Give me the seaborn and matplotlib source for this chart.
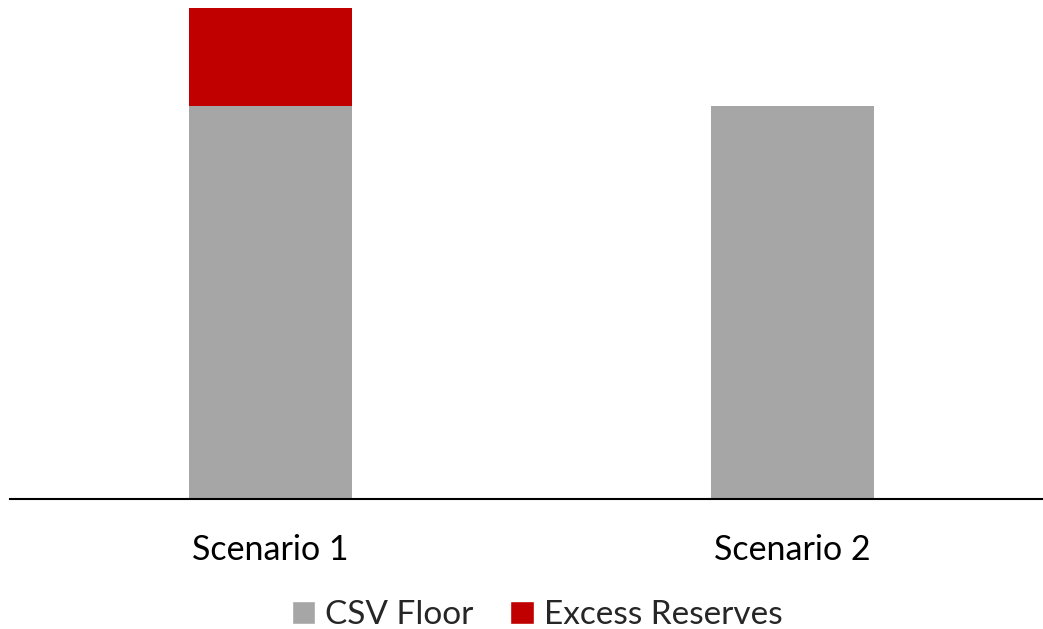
import pandas as pd
import numpy as np
import seaborn as sns
import matplotlib.pyplot as plt
from matplotlib.patches import Patch

sns.set_style('white')
plt.rcParams['font.family'] = ['Lato', 'DejaVu Sans']

# data (arbitrary units, no axis shown)
scenarios = ['Scenario 1', 'Scenario 2']
csv_floor = [100, 100]
excess_reserves = [25, 0]

df = pd.DataFrame({'scenario': scenarios, 'csv_floor': csv_floor,
                   'excess': excess_reserves})
df['total'] = df['csv_floor'] + df['excess']

grey = '#A6A6A6'
red = '#C00000'

fig = plt.figure(figsize=(10.43, 6.29), dpi=100)
ax = fig.add_axes([10 / 1043, 130 / 629, 1 - 10 / 1043, 491 / 629])

# stacked: total in red, floor drawn over it in grey
sns.barplot(data=df, x='scenario', y='total', color=red, width=0.3125,
            saturation=1, linewidth=0, ax=ax)
sns.barplot(data=df, x='scenario', y='csv_floor', color=grey, width=0.3125,
            saturation=1, linewidth=0, ax=ax)

ax.set_xlim(-0.4995, 1.481)
ax.set_ylim(0, 125)
ax.set_xlabel('')
ax.set_ylabel('')
ax.set_yticks([])
ax.tick_params(axis='x', length=0, labelsize=24.5, pad=25, colors='#000000')
for side in ['top', 'right', 'left']:
    ax.spines[side].set_visible(False)
ax.spines['bottom'].set_color('#000000')
ax.spines['bottom'].set_linewidth(1.5)

handles = [Patch(facecolor=grey, label='CSV Floor'),
           Patch(facecolor=red, label='Excess Reserves')]
fig.legend(handles=handles, loc='center', bbox_to_anchor=(0.515, 0.022),
           ncol=2, frameon=False, fontsize=24, handlelength=0.7,
           handleheight=0.7, handletextpad=0.3, columnspacing=1.1,
           borderpad=0)

fig.savefig('out.png', dpi=100)
